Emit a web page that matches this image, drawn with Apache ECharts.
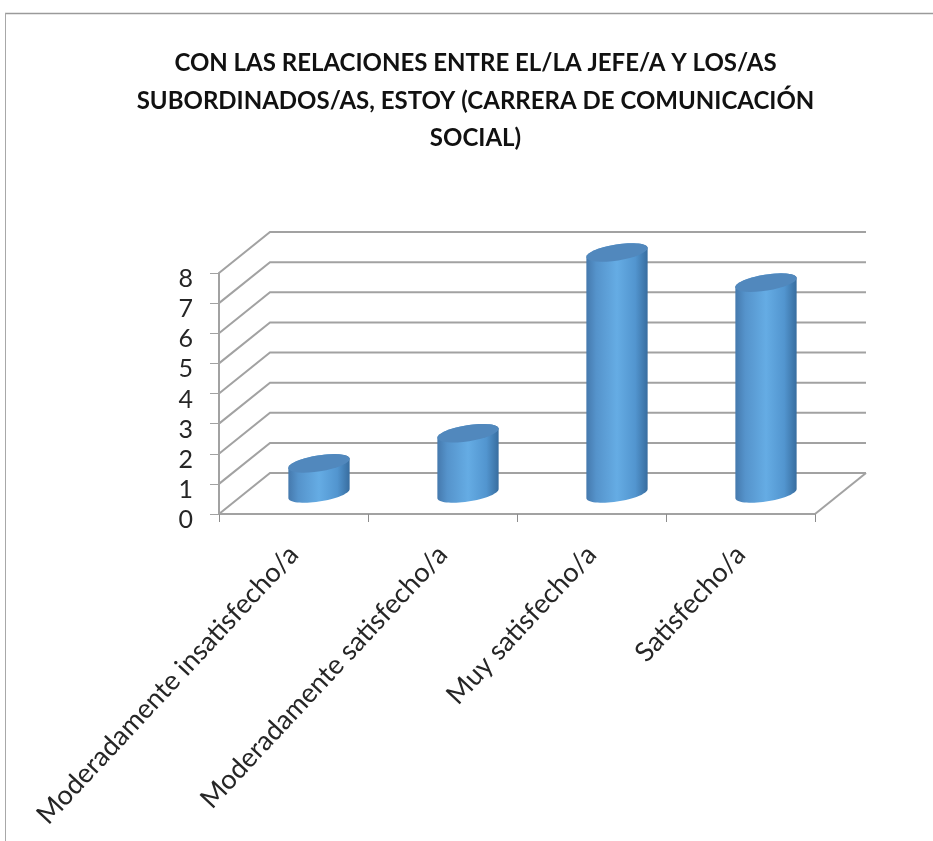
<!DOCTYPE html>
<html>
<head>
<meta charset="utf-8">
<style>html,body{margin:0;padding:0;background:#fff}#c{width:933px;height:841px;filter:blur(0.5px)}</style>
<script src="https://cdn.jsdelivr.net/npm/echarts@6/dist/echarts.min.js"></script>
</head>
<body>
<div id="c"></div>
<script>
const titleText = 'CON LAS RELACIONES ENTRE EL/LA JEFE/A Y LOS/AS\nSUBORDINADOS/AS, ESTOY (CARRERA DE COMUNICACIÓN\nSOCIAL)';
const categories = ['Moderadamente insatisfecho/a', 'Moderadamente satisfecho/a', 'Muy satisfecho/a', 'Satisfecho/a'];
const values = [1, 2, 8, 7];
const yTicks = [0, 1, 2, 3, 4, 5, 6, 7, 8];

const DEPTH_X = 51, DEPTH_Y = 41;
const GRID_COLOR = '#a2a2a2';
const FONT = 'Lato';
const TILT = -9 * Math.PI / 180;

function ellipsePoints(cx, cy, rx, ry, from, to) {
  const pts = [];
  const n = 32;
  for (let i = 0; i <= n; i++) {
    const t = from + (to - from) * i / n;
    pts.push([
      cx + rx * Math.cos(t) * Math.cos(TILT) - ry * Math.sin(t) * Math.sin(TILT),
      cy + rx * Math.cos(t) * Math.sin(TILT) + ry * Math.sin(t) * Math.cos(TILT)
    ]);
  }
  return pts;
}

function renderWall(params, api) {
  const sys = params.coordSys;
  const y = api.coord([0, api.value(0)])[1];
  const left = sys.x, right = sys.x + sys.width;
  const backY = y - DEPTH_Y;
  const children = [{
    type: 'polyline',
    shape: { points: [[left, y], [left + DEPTH_X, backY], [right + DEPTH_X, backY]] },
    style: { stroke: GRID_COLOR, lineWidth: 2, fill: null }
  }];
  if (api.value(0) === 0) {
    children.push({
      type: 'line',
      shape: { x1: right, y1: y, x2: right + DEPTH_X, y2: backY },
      style: { stroke: GRID_COLOR, lineWidth: 2 }
    });
  }
  return { type: 'group', children };
}

function renderCylinder(params, api) {
  const top = api.coord([api.value(0), api.value(1)]);
  const base = api.coord([api.value(0), 0]);
  const band = api.size([1, 0])[0];
  const rx = band * 0.208, ry = 8;
  const cx = top[0] + DEPTH_X / 2;
  const cyTop = top[1] - DEPTH_Y / 2;
  const cyBase = base[1] - DEPTH_Y / 2;
  const t0 = Math.atan2(-ry * Math.sin(TILT), rx * Math.cos(TILT));
  const body = ellipsePoints(cx, cyBase, rx, ry, t0, t0 + Math.PI)
    .concat(ellipsePoints(cx, cyTop, rx, ry, t0 + Math.PI, t0 + 2 * Math.PI));
  const cap = ellipsePoints(cx, cyTop, rx, ry, 0, 2 * Math.PI);
  return {
    type: 'group',
    children: [{
      type: 'polygon',
      shape: { points: body },
      style: {
        fill: new echarts.graphic.LinearGradient(0, 0, 1, 0, [
          { offset: 0, color: '#4579ad' },
          { offset: 0.16, color: '#5593cb' },
          { offset: 0.5, color: '#65ace4' },
          { offset: 0.8, color: '#5295cf' },
          { offset: 1, color: '#386d9f' }
        ])
      }
    }, {
      type: 'polygon',
      shape: { points: cap },
      style: { fill: '#5188bd' }
    }]
  };
}

const chart = echarts.init(document.getElementById('c'), null, { renderer: 'canvas' });
chart.setOption({
  animation: false,
  backgroundColor: '#ffffff',
  title: {
    text: titleText,
    left: 470.5,
    top: 40,
    textAlign: 'center',
    textStyle: {
      fontFamily: FONT, fontWeight: 'bold', fontSize: 24, lineHeight: 37.5, color: '#111111'
    }
  },
  grid: { left: 219, right: 118, top: 273, bottom: 327 },
  xAxis: {
    type: 'category',
    data: categories,
    axisLine: { lineStyle: { color: GRID_COLOR, width: 2 } },
    axisTick: { show: true, alignWithLabel: false, length: 8, lineStyle: { color: '#8c8c8c', width: 1 } },
    axisLabel: {
      interval: 0, rotate: 47, margin: 36,
      fontFamily: FONT, fontSize: 27, color: '#262626'
    },
    splitLine: { show: false }
  },
  yAxis: {
    type: 'value',
    min: 0, max: 8, interval: 1,
    axisLine: { show: true, lineStyle: { color: GRID_COLOR, width: 2 } },
    axisTick: { show: true, length: 9, lineStyle: { color: GRID_COLOR, width: 1 } },
    axisLabel: { margin: 26, fontFamily: FONT, fontSize: 25, color: '#262626', verticalAlign: 'top', lineHeight: 12 },
    splitLine: { show: false }
  },
  series: [{
    type: 'custom',
    name: 'walls',
    clip: false,
    silent: true,
    z: 1,
    data: yTicks.map(v => [v]),
    encode: { y: 0 },
    renderItem: renderWall
  }, {
    type: 'custom',
    name: 'Respuestas',
    clip: false,
    z: 3,
    data: values.map((v, i) => [i, v]),
    encode: { x: 0, y: 1 },
    renderItem: renderCylinder
  }],
  graphic: [
    { type: 'line', silent: true, shape: { x1: 5, y1: 13.5, x2: 933, y2: 13.5 }, style: { stroke: '#9a9a9a', lineWidth: 1.5 } },
    { type: 'line', silent: true, shape: { x1: 5.5, y1: 13, x2: 5.5, y2: 841 }, style: { stroke: '#a8a8a8', lineWidth: 1 } }
  ]
});
</script>
</body>
</html>
